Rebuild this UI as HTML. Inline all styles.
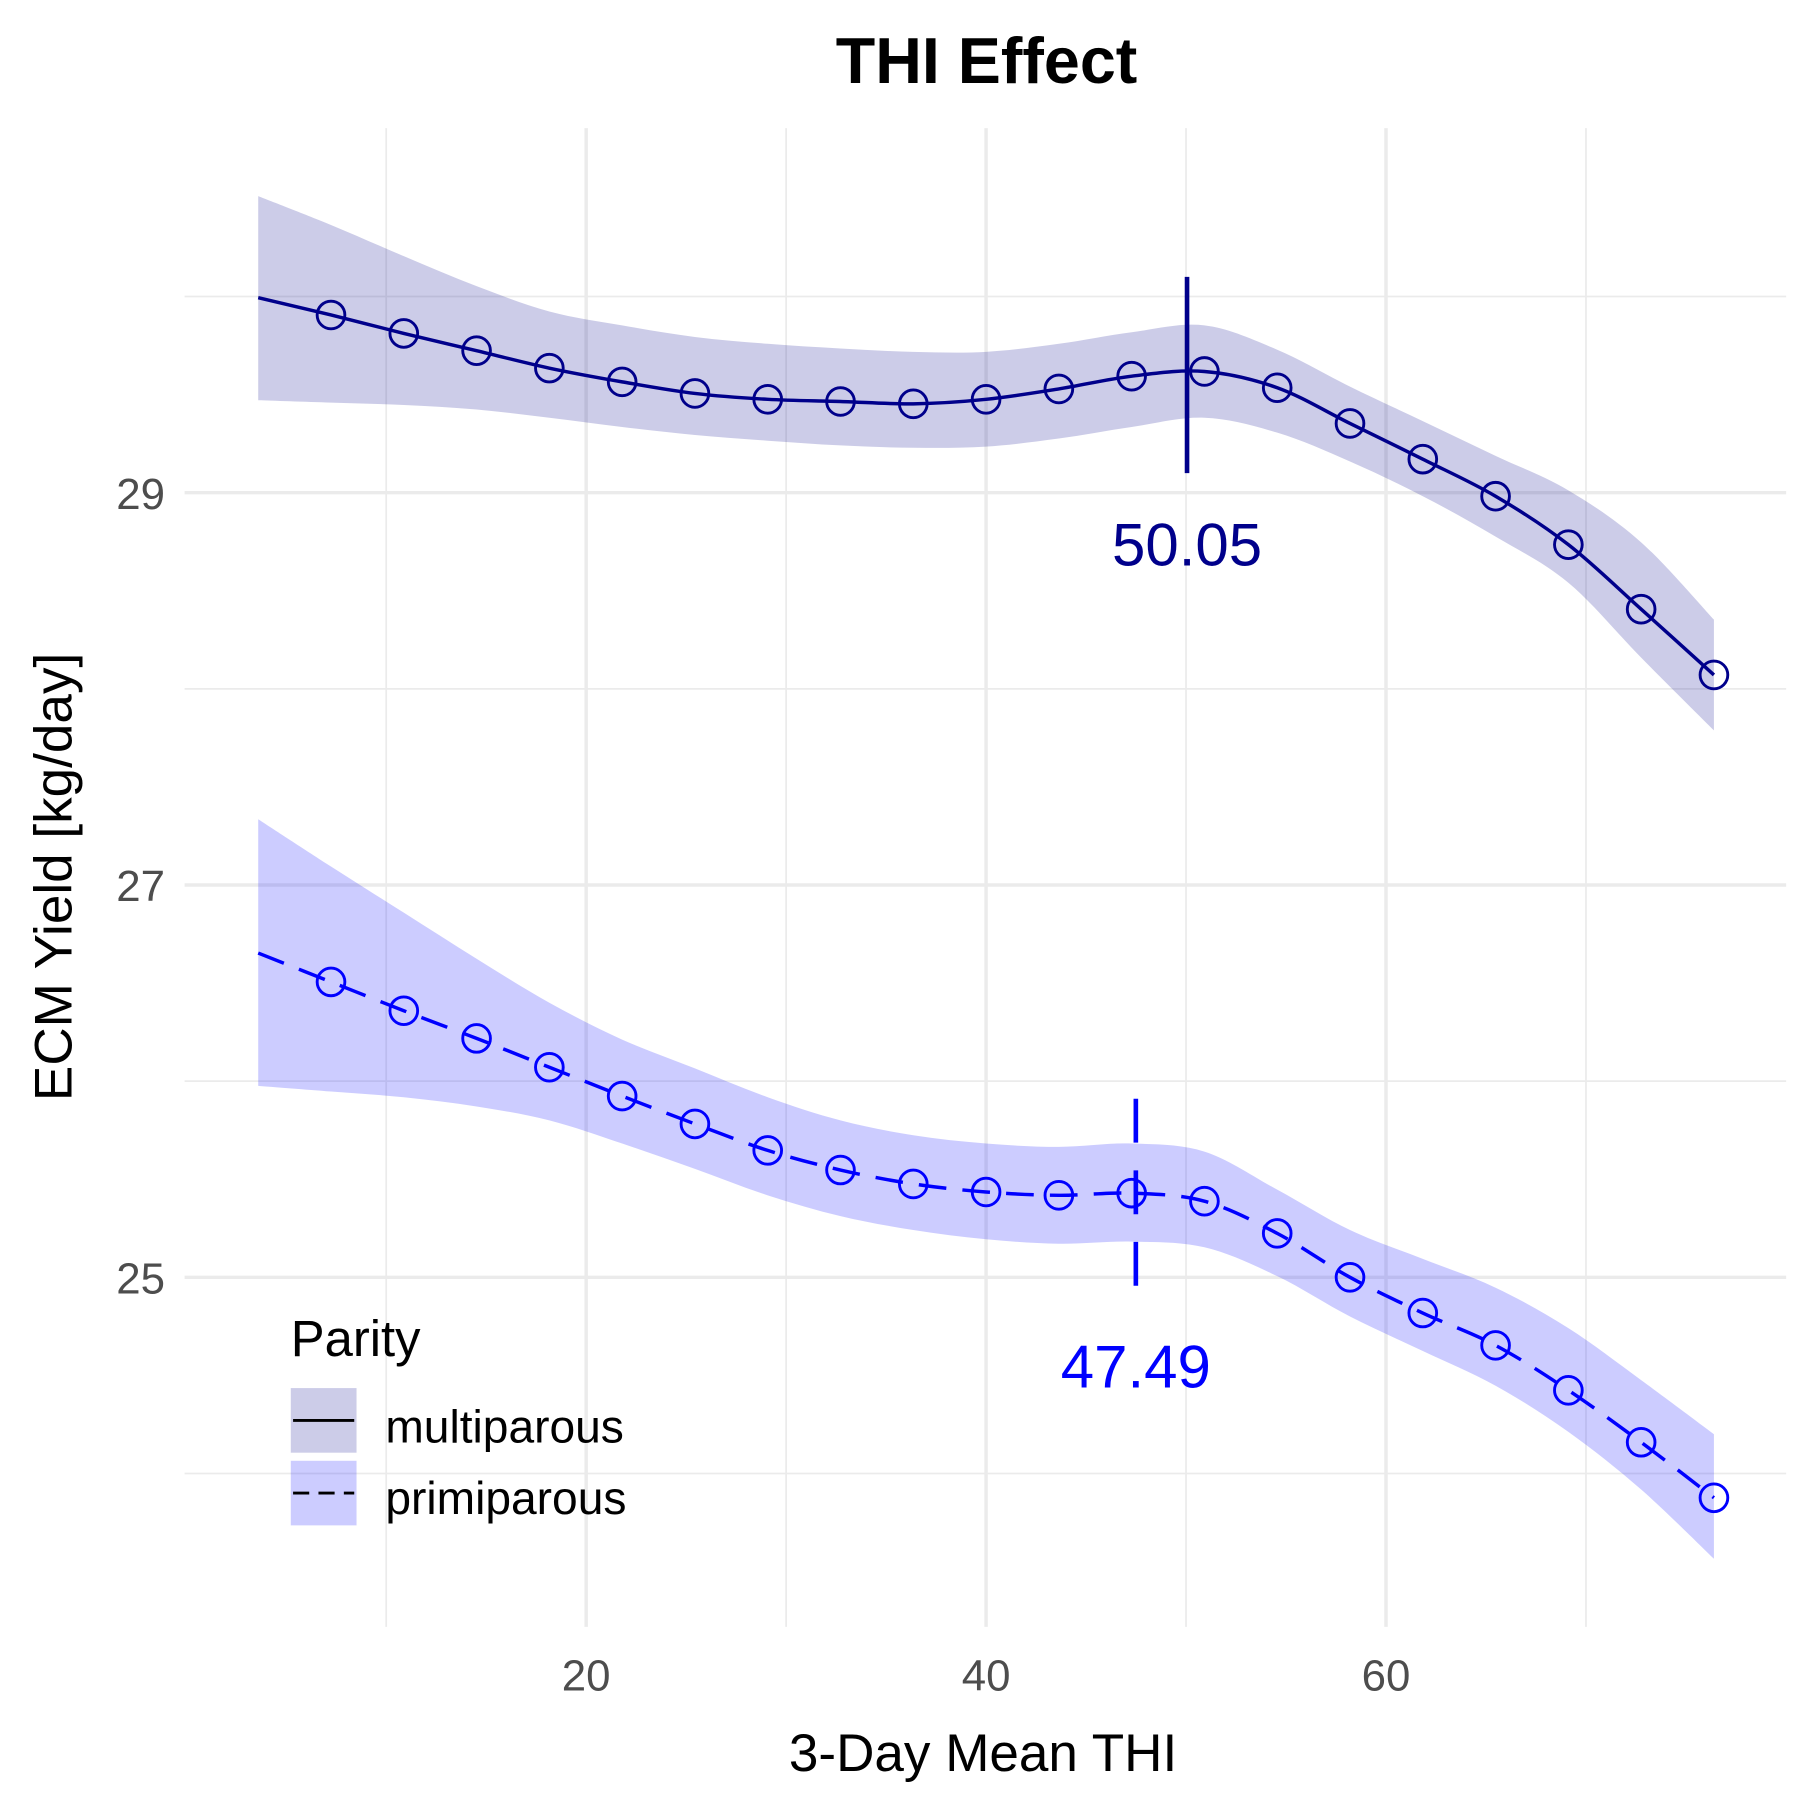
<!DOCTYPE html>
<html><head><meta charset="utf-8"><style>
html,body{margin:0;padding:0;background:#fff;}
svg{display:block;font-family:"Liberation Sans",Arial,sans-serif;}
</style></head><body>
<svg id="chart" width="1800" height="1800" viewBox="0 0 1560 1560" xmlns="http://www.w3.org/2000/svg">
<g id="grid"></g>
<g id="bands"></g>
<g id="lines"></g>
<g id="marks"></g>
<g id="axes"></g>
<text x="855" y="72" text-anchor="middle" font-size="56" font-weight="bold" fill="#000">THI Effect</text>
<text x="852" y="1535" text-anchor="middle" font-size="46" fill="#000">3-Day Mean THI</text>
<text transform="translate(62,760) rotate(-90)" text-anchor="middle" font-size="46" fill="#000">ECM Yield [kg/day]</text>
<g>
<text x="252" y="1175" font-size="44" fill="#000">Parity</text>
<g>
<rect x="252" y="1203" width="57" height="56" fill="#00008B" fill-opacity="0.2"/>
<line x1="254" y1="1231" x2="307" y2="1231" stroke="#000" stroke-width="2.5"/>
<text x="334" y="1250" font-size="40" fill="#000">multiparous</text>
</g>
<g>
<rect x="252" y="1266" width="57" height="56" fill="#0000FF" fill-opacity="0.2"/>
<line x1="254" y1="1294" x2="307" y2="1294" stroke="#000" stroke-width="2.5" stroke-dasharray="14 8"/>
<text x="334" y="1312" font-size="40" fill="#000">primiparous</text>
</g>
</g>
</svg>
<script>
const thi = [3.6,7.24,10.88,14.52,18.16,21.8,25.44,29.08,32.72,36.36,40.0,43.64,47.28,50.92,54.56,58.2,61.84,65.48,69.12,72.76,76.4];
const multiFit = [29.994,29.906,29.812,29.724,29.635,29.565,29.506,29.476,29.465,29.453,29.476,29.529,29.594,29.618,29.535,29.353,29.171,28.982,28.735,28.406,28.071];
const multiUpper = [30.512,30.365,30.206,30.053,29.924,29.853,29.794,29.759,29.735,29.718,29.718,29.759,29.818,29.853,29.729,29.541,29.365,29.188,29.012,28.747,28.353];
const multiLower = [29.471,29.459,29.447,29.424,29.382,29.335,29.294,29.265,29.241,29.229,29.235,29.276,29.335,29.382,29.306,29.159,28.982,28.776,28.541,28.159,27.788];
const primFit = [26.653,26.506,26.359,26.218,26.071,25.924,25.782,25.647,25.547,25.476,25.435,25.418,25.429,25.388,25.224,25.0,24.818,24.653,24.424,24.159,23.876];
const primUpper = [27.335,27.094,26.859,26.624,26.4,26.212,26.065,25.918,25.8,25.724,25.682,25.665,25.682,25.641,25.447,25.241,25.094,24.947,24.741,24.476,24.2];
const primLower = [25.976,25.947,25.918,25.871,25.8,25.682,25.553,25.418,25.312,25.241,25.194,25.171,25.182,25.153,25.006,24.8,24.624,24.447,24.212,23.918,23.565];
const thresholds = [50.05, 47.49];
const thresholdLabels = ["50.05", "47.49"];
const xTicks = [20,40,60];
const xMinor = [10,30,50,70];
const yTicks = [25,27,29];
const yMinor = [24,26,28,30];

const NS = "http://www.w3.org/2000/svg";
const X = v => 508 + (v - 20) * 17.33;
const Y = v => 427 - (v - 29) * 170;
const L = 160, R = 1548, T = 111, B = 1410;
function mk(tag, attrs, parent){const e=document.createElementNS(NS,tag);for(const k in attrs)e.setAttribute(k,attrs[k]);parent.appendChild(e);return e;}
function smooth(pts){let d="M"+pts[0][0]+","+pts[0][1];for(let i=0;i<pts.length-1;i++){const p0=pts[Math.max(0,i-1)],p1=pts[i],p2=pts[i+1],p3=pts[Math.min(pts.length-1,i+2)];const c1=[p1[0]+(p2[0]-p0[0])/6,p1[1]+(p2[1]-p0[1])/6],c2=[p2[0]-(p3[0]-p1[0])/6,p2[1]-(p3[1]-p1[1])/6];d+=" C"+c1[0]+","+c1[1]+" "+c2[0]+","+c2[1]+" "+p2[0]+","+p2[1];}return d;}
const grid=document.getElementById('grid'),bands=document.getElementById('bands'),lines=document.getElementById('lines'),marks=document.getElementById('marks'),axes=document.getElementById('axes');
xMinor.forEach(v=>{const e=mk('line',{x1:X(v),x2:X(v),y1:T,y2:B,stroke:'#EBEBEB','stroke-width':1.5},grid);

});
yMinor.forEach(v=>{const e=mk('line',{x1:L,x2:R,y1:Y(v),y2:Y(v),stroke:'#EBEBEB','stroke-width':1.5},grid);

});
xTicks.forEach(v=>{const e=mk('line',{x1:X(v),x2:X(v),y1:T,y2:B,stroke:'#EBEBEB','stroke-width':3},grid);


const t=mk('text',{x:X(v),y:1465,'text-anchor':'middle','font-size':38,fill:'#4D4D4D'},axes);t.textContent=v;

});
yTicks.forEach(v=>{const e=mk('line',{x1:L,x2:R,y1:Y(v),y2:Y(v),stroke:'#EBEBEB','stroke-width':3},grid);


const t=mk('text',{x:143,y:Y(v)+14,'text-anchor':'end','font-size':38,fill:'#4D4D4D'},axes);t.textContent=v;

});
const series=[
 {name:'multiparous',fit:multiFit,up:multiUpper,lo:multiLower,color:'#00008B',dash:null},
 {name:'primiparous',fit:primFit,up:primUpper,lo:primLower,color:'#0000FF',dash:'24 14'}];
series.forEach((s,si)=>{
 const up=thi.map((t,i)=>[X(t),Y(s.up[i])]);
 const lo=thi.map((t,i)=>[X(t),Y(s.lo[i])]).reverse();
 let d=smooth(up);const dl=smooth(lo);d+=" L"+dl.slice(1)+" Z";
 const b=mk('path',{d:d,fill:s.color,'fill-opacity':0.2,stroke:'none'},bands);
 
 
 const fp=thi.map((t,i)=>[X(t),Y(s.fit[i])]);
 const ln=mk('path',{d:smooth(fp),fill:'none',stroke:s.color,'stroke-width':3},lines);
 if(s.dash)ln.setAttribute('stroke-dasharray',s.dash);
 
 
 for(let i=1;i<thi.length;i++){
  const c=mk('circle',{cx:X(thi[i]),cy:Y(s.fit[i]),r:12,fill:'none',stroke:s.color,'stroke-width':2.5},marks);
  
  
 }
 const tx=X(thresholds[si]);
 const yc=Y(s.fit[0])*0+(si===0?Y(29.6):Y(25.41));
 const vl=mk('line',{x1:tx,x2:tx,y1:yc-85,y2:yc+85,stroke:s.color,'stroke-width':4},marks);
 if(s.dash)vl.setAttribute('stroke-dasharray','38 24');
 
 
 const lt=mk('text',{x:tx,y:yc+165,'text-anchor':'middle','font-size':52,fill:s.color},marks);
 lt.textContent=thresholdLabels[si];
 
 
});
</script>
</body></html>
